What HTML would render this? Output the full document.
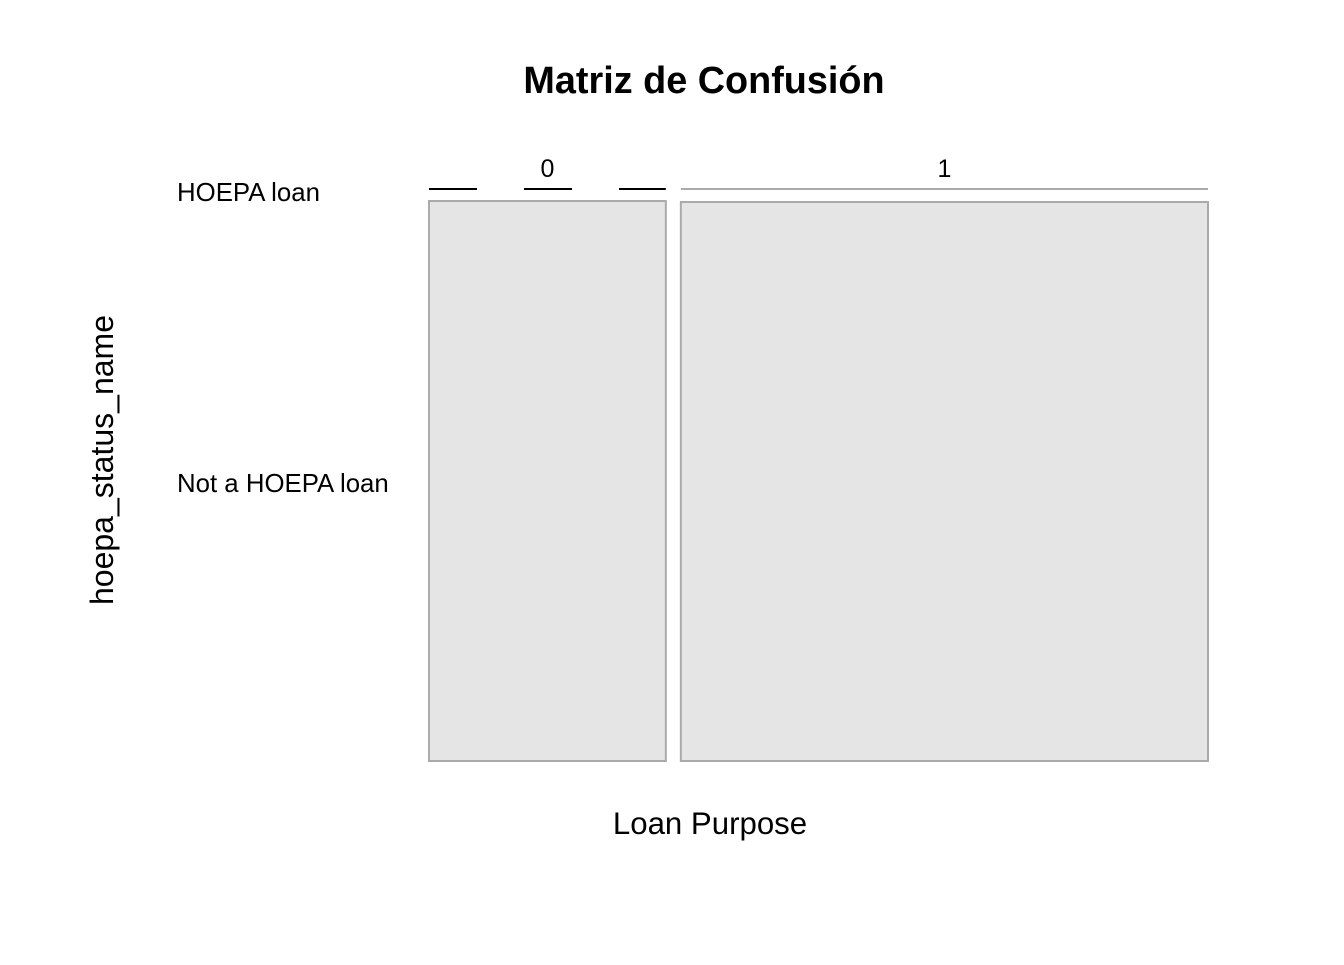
<!DOCTYPE html>
<html><head><meta charset="utf-8"><style>
body{margin:0;background:#fff;}
svg text{font-family:"Liberation Sans",Arial,sans-serif;}
</style></head><body>
<svg width="1344" height="960">
<text x="704" y="93" text-anchor="middle" font-size="37.8" font-weight="bold">Matriz de Confusión</text>
<text x="710" y="834" text-anchor="middle" font-size="31.2">Loan Purpose</text>
<text transform="translate(113,460) rotate(-90)" text-anchor="middle" font-size="32">hoepa_status_name</text>
<g id="plot"></g>
</svg>
<script>
const colLabels=["0","1"];
const colCounts=[31,69];
const rowLabels=["HOEPA loan","Not a HOEPA loan"];
const rowFracs=[[0,1],[0.0001,0.9999]];
const g=document.getElementById('plot');
const NS="http://www.w3.org/2000/svg";
function mk(t,a){const e=document.createElementNS(NS,t);for(const k in a)e.setAttribute(k,a[k]);g.appendChild(e);return e;}
const x0=429,x1=1208,gap=15,yTop=189,y0=201,y1=761;
const total=colCounts.reduce((a,b)=>a+b,0);
const avail=x1-x0-gap*(colCounts.length-1);
let x=x0;
colCounts.forEach((c,i)=>{
  const w=avail*c/total;
  const t=mk('text',{x:x+w/2,y:177,'text-anchor':'middle','font-size':25});t.textContent=colLabels[i];
  
  
  const f=rowFracs[i];
  if(f[0]===0){
    const l=mk('line',{x1:x,x2:x+w,y1:yTop,y2:yTop,stroke:'#000','stroke-width':2,'stroke-dasharray':'48 47'});
    
    
  } else {
    const l=mk('line',{x1:x,x2:x+w,y1:yTop,y2:yTop,stroke:'#aaa','stroke-width':2});
    
    
  }
  const r=mk('rect',{x:x,y:y0+(i?1:0),width:w,height:y1-y0-(i?1:0),fill:'#e5e5e5',stroke:'#aaa','stroke-width':2});
  
  
  x+=w+gap;
});
const ly=[201,492];
rowLabels.forEach((lab,i)=>{
  const t=mk('text',{x:177,y:ly[i],'font-size':25.8});t.textContent=lab;
  
  
});
</script>
</body></html>
